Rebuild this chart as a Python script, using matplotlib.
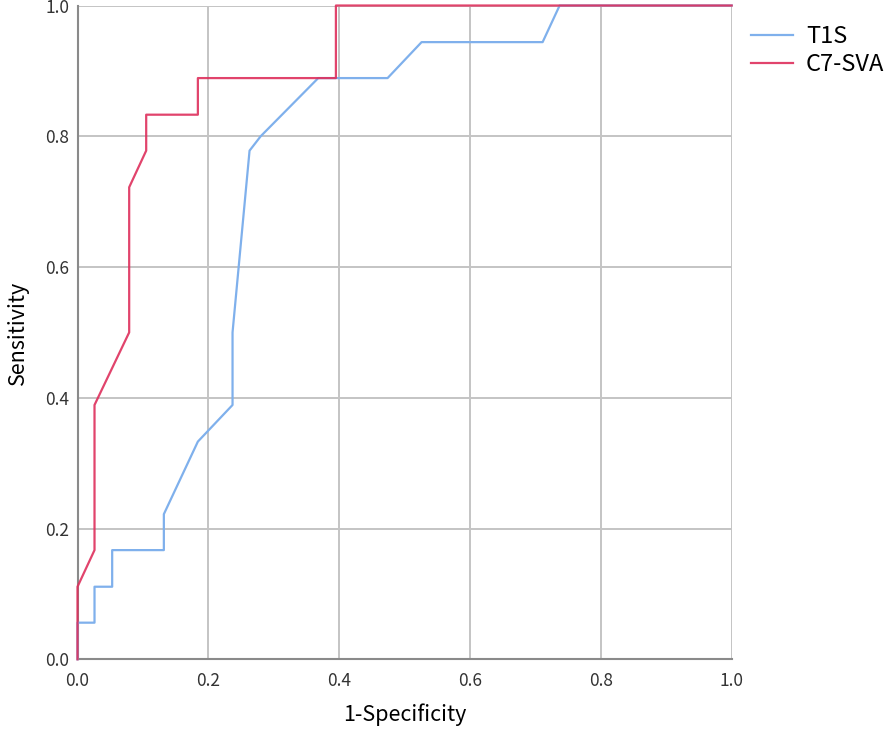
import matplotlib
matplotlib.use('Agg')
import matplotlib.pyplot as plt

plt.rcParams['font.family'] = ['Noto Sans CJK SC', 'DejaVu Sans']

# ROC 曲线坐标 (1-Specificity, Sensitivity)
t1s_fpr = [0.0, 0.0, 0.026, 0.026, 0.053, 0.053, 0.132, 0.132, 0.184, 0.237, 0.237,
           0.263, 0.28, 0.368, 0.474, 0.526, 0.711, 0.737, 1.0]
t1s_tpr = [0.0, 0.056, 0.056, 0.111, 0.111, 0.167, 0.167, 0.222, 0.333, 0.389, 0.5,
           0.778, 0.80, 0.889, 0.889, 0.944, 0.944, 1.0, 1.0]

c7_fpr = [0.0, 0.0, 0.026, 0.026, 0.079, 0.079, 0.105, 0.105, 0.184, 0.184,
          0.395, 0.395, 1.0]
c7_tpr = [0.0, 0.111, 0.167, 0.389, 0.5, 0.722, 0.778, 0.833, 0.833, 0.889,
          0.889, 1.0, 1.0]

labels = ['T1S', 'C7-SVA']
colors = ['#7fb0ec', '#de2f5c']

fig = plt.figure(figsize=(8.96, 7.35), dpi=100)
ax = fig.add_axes([0.0865, 0.103, 0.7301, 0.8895])

ax.plot(t1s_fpr, t1s_tpr, color=colors[0], lw=1.6, label=labels[0], zorder=3, clip_on=False)
ax.plot(c7_fpr, c7_tpr, color=colors[1], lw=1.6, label=labels[1], zorder=3, alpha=0.9, clip_on=False)

ax.set_xlim(0, 1)
ax.set_ylim(0, 1)
ticks = [0.0, 0.2, 0.4, 0.6, 0.8, 1.0]
ax.set_xticks(ticks)
ax.set_yticks(ticks)
ax.set_xticklabels([f'{t:.1f}' for t in ticks], fontsize=12.5, color='#333333')
ax.set_yticklabels([f'{t:.1f}' for t in ticks], fontsize=12.5, color='#333333')
ax.tick_params(axis='x', length=0, pad=9)
ax.tick_params(axis='y', length=0, pad=6)
ax.grid(color='#c4c4c4', lw=1.4)
ax.set_axisbelow(True)
for s in ['top', 'right']:
    ax.spines[s].set_visible(False)
for s in ['left', 'bottom']:
    ax.spines[s].set_color('#8a8a8a')
    ax.spines[s].set_linewidth(1.5)

ax.set_xlabel('1-Specificity', fontsize=15.5, labelpad=10)
ax.set_ylabel('Sensitivity', fontsize=15.5, labelpad=12)

ax.legend(loc='upper left', bbox_to_anchor=(1.005, 0.995), frameon=False,
          fontsize=17, handlelength=1.75, handletextpad=0.55, labelspacing=0.2,
          borderaxespad=0.3)

plt.savefig('out.png', dpi=100)
plt.close()
